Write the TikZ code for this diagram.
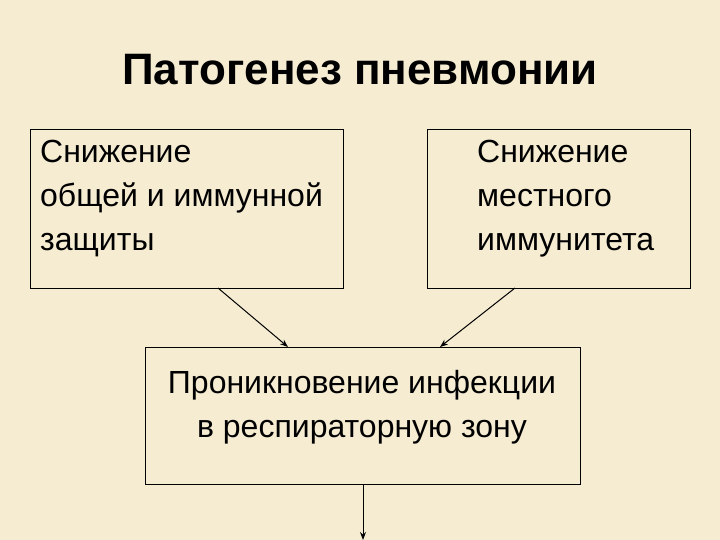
\documentclass[tikz,border=0pt]{standalone}
\usepackage{fontspec}
\setmainfont{Liberation Sans}
\usetikzlibrary{arrows.meta}
\definecolor{bg}{HTML}{F6ECD2}
\begin{document}
\begin{tikzpicture}[x=1pt,y=-1pt,
  box/.style={draw=black,line width=1pt},
  txt/.style={font=\fontsize{32}{38}\selectfont,anchor=base west,inner sep=0},
  arr/.style={line width=1pt,-{Stealth[length=8pt,width=6pt]}}]
\fill[bg] (0,0) rectangle (720,540);
\useasboundingbox (0,0) rectangle (720,540);
\node[font=\fontsize{44}{50}\selectfont\bfseries] (title) at (360,70) {Патогенез пневмонии};
\draw[box] (30,130) rectangle (343,288);
\draw[box] (427,130) rectangle (690,288);
\draw[box] (145,347) rectangle (580,484);
\node[txt] (a1) at (40,163) {Снижение};
\node[txt] (a2) at (40,207) {общей и иммунной};
\node[txt] (a3) at (40,251) {защиты};
\node[txt] (b1) at (477,163) {Снижение};
\node[txt] (b2) at (477,207) {местного};
\node[txt] (b3) at (477,251) {иммунитета};
\node[txt,anchor=base] (c1) at (362,393) {Проникновение инфекции};
\node[txt,anchor=base] (c2) at (362,437) {в респираторную зону};
\coordinate (s1) at (218,288); \coordinate (e1) at (288,347);
\coordinate (s2) at (515,288); \coordinate (e2) at (440,347);
\coordinate (s3) at (363,484); \coordinate (e3) at (363,540);
\draw[arr] (s1) -- (e1);
\draw[arr] (s2) -- (e2);
\draw[arr] (s3) -- (e3);
\end{tikzpicture}
\end{document}
